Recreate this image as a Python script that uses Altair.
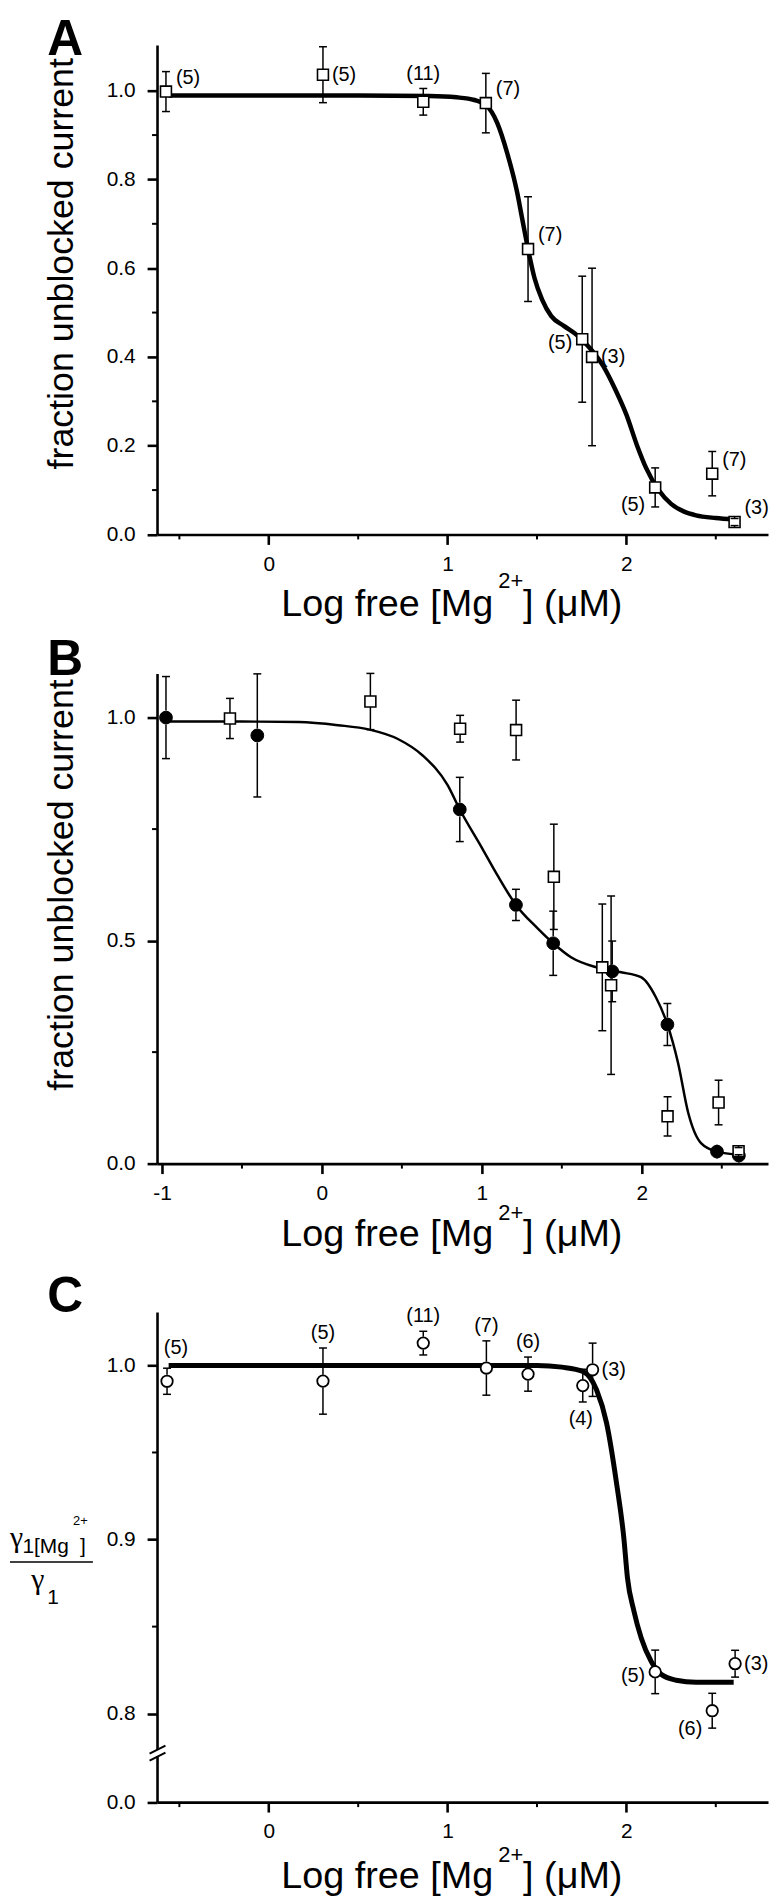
import altair as alt
import pandas as pd

FONT = "Liberation Sans"

# ---------------- data ----------------
# Panel A (open squares, also shown in B)
sq_logmg = [-0.575, 0.303, 0.864, 1.214, 1.450, 1.753, 1.808, 2.161, 2.480, 2.605]
sq_frac = [0.998, 1.036, 0.975, 0.972, 0.643, 0.440, 0.400, 0.106, 0.137, 0.028]
sq_sem = [0.045, 0.063, 0.030, 0.067, 0.118, 0.142, 0.200, 0.044, 0.050, 0.008]
sq_n = ["(5)", "(5)", "(11)", "(7)", "(7)", "(5)", "(3)", "(5)", "(7)", "(3)"]
sq_place = ["ur", "r", "a", "ur", "ur", "l", "r", "ll", "ur", "ur"]

fitA_x = [-0.56, 0.0, 0.5, 0.9, 1.05, 1.15, 1.214, 1.278, 1.333, 1.389, 1.417, 1.45,
          1.486, 1.528, 1.58, 1.65, 1.73, 1.8, 1.87, 1.94, 2.0, 2.06, 2.11, 2.18,
          2.25, 2.32, 2.389, 2.5, 2.6]
fitA_y = [0.989, 0.989, 0.989, 0.988, 0.985, 0.979, 0.968, 0.927, 0.86, 0.771, 0.712,
          0.643, 0.578, 0.53, 0.492, 0.47, 0.447, 0.418, 0.38, 0.325, 0.27, 0.2, 0.15,
          0.1, 0.069, 0.052, 0.043, 0.037, 0.034]

# Panel B (filled circles)
ci_logmg = [-0.975, -0.404, 0.862, 1.213, 1.446, 1.815, 2.160, 2.470, 2.607]
ci_frac = [1.000, 0.960, 0.794, 0.580, 0.494, 0.431, 0.312, 0.027, 0.018]
ci_sem = [0.092, 0.138, 0.072, 0.035, 0.072, 0.068, 0.047, 0.008, 0.004]

fitB_x = [-0.975, -0.5, -0.146, 0.1, 0.298, 0.475, 0.63, 0.785, 0.862, 1.002, 1.095,
          1.213, 1.344, 1.446, 1.56, 1.716, 1.871, 1.995, 2.088, 2.16, 2.227, 2.29,
          2.37, 2.47, 2.607]
fitB_y = [0.991, 0.991, 0.99, 0.983, 0.973, 0.952, 0.915, 0.849, 0.794, 0.707, 0.648,
          0.58, 0.529, 0.494, 0.462, 0.44, 0.429, 0.418, 0.373, 0.312, 0.225, 0.114,
          0.046, 0.027, 0.02]

# Panel C (open circles, conductance ratio)
oc_logmg = [-0.569, 0.303, 0.864, 1.217, 1.450, 1.756, 1.811, 2.161, 2.480, 2.608]
oc_ratio = [0.9909, 0.9910, 1.0128, 0.9985, 0.9950, 0.9884, 0.9975, 0.8240, 0.8017, 0.8287]
oc_sem = [0.0075, 0.0190, 0.0068, 0.0156, 0.0098, 0.0094, 0.0153, 0.0125, 0.0100, 0.0077]
oc_n = ["(5)", "(5)", "(11)", "(7)", "(6)", "(4)", "(3)", "(5)", "(6)", "(3)"]
oc_place = ["ar", "a", "a", "a", "a", "b", "r", "l", "ll", "r"]

fitC_x = [-0.56, 0.5, 1.0, 1.5, 1.639, 1.756, 1.833, 1.889, 1.944, 1.986, 2.006, 2.042,
          2.083, 2.139, 2.194, 2.278, 2.39, 2.6]
fitC_y = [1.0, 1.0, 1.0, 1.0, 0.999, 0.9966, 0.986, 0.967, 0.933, 0.9006, 0.878, 0.859,
          0.8435, 0.830, 0.8226, 0.8192, 0.818, 0.818]

# axis tick values (major = labelled, minor = unlabelled short ticks)
xA_major = [0, 1, 2]
xA_minor = [-0.5, 0.5, 1.5, 2.5]
xB_major = [-1, 0, 1, 2]
xB_minor = [-0.5, 0.5, 1.5, 2.5]
yA_major = [0, 0.2, 0.4, 0.6, 0.8, 1.0]
yA_minor = [0.1, 0.3, 0.5, 0.7, 0.9]
yB_major = [0, 0.5, 1.0]
yB_minor = [0.25, 0.75]
Y_BREAK0 = 0.7492  # where the "0.0" tick sits below the axis break
yC_major = [Y_BREAK0, 0.8, 0.9, 1.0]
yC_minor = [0.85, 0.95]
# axis break symbol of panel C (two short slanted strokes)
brk_lo = [0.7770, 0.7730]
brk_hi = [0.7816, 0.7776]


def pts_df(x, y, e, n=None, place=None):
    d = pd.DataFrame({"x": x, "y": y, "e": e})
    d["lo"] = d["y"] - d["e"]
    d["hi"] = d["y"] + d["e"]
    if n is not None:
        d["n"] = n
        d["place"] = place
    return d


dfA = pts_df(sq_logmg, sq_frac, sq_sem, sq_n, sq_place)
dfB = pts_df(ci_logmg, ci_frac, ci_sem)
dfC = pts_df(oc_logmg, oc_ratio, oc_sem, oc_n, oc_place)
fitA = pd.DataFrame({"x": fitA_x, "y": fitA_y})
fitB = pd.DataFrame({"x": fitB_x, "y": fitB_y})
fitC = pd.DataFrame({"x": fitC_x, "y": fitC_y})

# ---------------- layout (page pixels) ----------------
PLOT_LEFT = 157.5
W = 615.0
A_TOP = 38.3
SP = 100.0
HA = 492.7
B_TOP = A_TOP + HA + SP
TB = 670.7 - B_TOP
HB = 1164.0 - B_TOP
C_TOP = B_TOP + HB + SP
TC = 1313.3 - C_TOP
HC = 1806.7 - C_TOP
C_PX_PER_UNIT = (HC - TC) / (1.0307 - Y_BREAK0)

one = alt.Data(values=[{}])


def axis(values, orient, label_expr, **kw):
    return alt.Axis(values=values, orient=orient, grid=False,
                    domainColor="black", domainWidth=2.6,
                    tickColor="black", tickWidth=2.6, tickSize=10,
                    labelExpr=label_expr, labelFont=FONT, labelFontSize=21,
                    labelColor="black", labelFlush=False, labelOverlap=False, **kw)


def text(s, px, py, top, size, weight="normal", align="left", font=FONT):
    return alt.Chart(one).mark_text(
        text=s, font=font, fontSize=size, fontWeight=weight, align=align,
        baseline="alphabetic", color="black").encode(
        x=alt.value(px - PLOT_LEFT), y=alt.value(py - top))


def xtitle(top, axis_y, off, sup_off):
    return [
        text("Log free [Mg", 282.5, axis_y + off, top, 38),
        text("2+", 501, axis_y + sup_off, top, 22),
        text("] (\u03bcM)", 526, axis_y + off, top, 38),
    ]


class Panel:
    def __init__(self, xdom, ydom, yrange, xax, yax):
        self.xdom, self.ydom = xdom, ydom
        self.xs = alt.Scale(domain=xdom, nice=False, zero=False)
        self.ys = alt.Scale(domain=ydom, nice=False, zero=False, range=yrange)
        self.xax, self.yax = xax, yax

    def X(self, f):
        return alt.X(f"{f}:Q", scale=self.xs, axis=self.xax)

    def Y(self, f):
        return alt.Y(f"{f}:Q", scale=self.ys, axis=self.yax)

    def curve(self, df, width):
        return alt.Chart(df).mark_line(color="black", strokeWidth=width,
                                       interpolate="monotone").encode(x=self.X("x"), y=self.Y("y"))

    def minor(self, xvals, yvals):
        xm = alt.Chart(pd.DataFrame({"v": xvals, "b": self.ydom[0]})).mark_rule(
            color="black", strokeWidth=2, y2Offset=5).encode(
            x=self.X("v"), y=self.Y("b"), y2="b:Q")
        ym = alt.Chart(pd.DataFrame({"v": yvals, "b": self.xdom[0]})).mark_rule(
            color="black", strokeWidth=2, x2Offset=-5).encode(
            y=self.Y("v"), x=self.X("b"), x2="b:Q")
        return [xm, ym]

    def markers(self, df, shape, size, half, fill, sw):
        pts = alt.Chart(df).mark_point(shape=shape, size=size, filled=True, fill=fill,
                                       stroke="black", strokeWidth=sw, opacity=1).encode(
            x=self.X("x"), y=self.Y("y"))
        up = alt.Chart(df).mark_rule(color="black", strokeWidth=1.5, y2Offset=-half).encode(
            x=self.X("x"), y=self.Y("hi"), y2="y:Q")
        dn = alt.Chart(df).mark_rule(color="black", strokeWidth=1.5, y2Offset=half).encode(
            x=self.X("x"), y=self.Y("lo"), y2="y:Q")
        caps = alt.Chart(df).transform_fold(["lo", "hi"], as_=["k", "v"]).mark_tick(
            orient="horizontal", size=8, thickness=1.5, color="black", opacity=1).encode(
            x=self.X("x"), y=self.Y("v"))
        return [pts, up, dn, caps]

    PLACES = {
        "ur": ("y", "left", 10, -14),
        "r": ("y", "left", 9, 0),
        "l": ("y", "right", -10, 4),
        "ll": ("y", "right", -10, 18),
        "a": ("hi", "center", 0, -15),
        "ar": ("hi", "center", 9, -20),
        "b": ("lo", "center", -2, 17),
    }

    def labels(self, df):
        out = []
        for key, (field, align, dx, dy) in self.PLACES.items():
            if key not in set(df["place"]):
                continue
            out.append(alt.Chart(df).transform_filter(alt.datum.place == key).mark_text(
                font=FONT, fontSize=20, align=align, baseline="middle", dx=dx, dy=dy,
                color="black").encode(x=self.X("x"), y=self.Y(field), text="n:N"))
        return out


def ytitle_axis(values, label_expr, title_center_y, top):
    return axis(values, "left", label_expr, labelPadding=12,
                title="fraction unblocked current", titleFont=FONT,
                titleFontSize=36, titleFontWeight="normal", titleColor="black",
                titleAngle=270, titleAlign="center", titleBaseline="alphabetic",
                titleX=72 - PLOT_LEFT, titleY=title_center_y - top)


# ---------------- panel A ----------------
pA = Panel([-0.625, 2.792], [0, 1.103], [HA, 0],
           axis(xA_major, "bottom", "datum.value + ''", labelPadding=9, title=None),
           ytitle_axis(yA_major, "format(datum.value, '.1f')", 258, A_TOP))
# white anchor fixing the top-left corner of the whole figure at the page corner
anchor = alt.Chart(one).mark_rule(color="white", strokeWidth=2).encode(
    x=alt.value(9 - PLOT_LEFT), x2=alt.value(10 - PLOT_LEFT), y=alt.value(9 - A_TOP))
panelA = alt.layer(
    anchor,
    pA.curve(fitA, 4.5),
    *pA.minor(xA_minor, yA_minor),
    *pA.markers(dfA, "square", 121, 5.5, "white", 1.6),
    *pA.labels(dfA),
    text("A", 47, 48, A_TOP, 50, weight="bold"),
    *xtitle(A_TOP, 531, 82, 54),
).properties(width=W, height=HA)

# ---------------- panel B ----------------
pB = Panel([-1.031, 2.789], [0, 1.0987], [HB, TB],
           axis(xB_major, "bottom", "datum.value + ''", labelPadding=9, title=None),
           ytitle_axis(yB_major, "format(datum.value, '.1f')", 883, B_TOP))
panelB = alt.layer(
    pB.curve(fitB, 2.5),
    *pB.minor(xB_minor, yB_minor),
    *pB.markers(dfB, "circle", 165, 7, "black", 1.0),
    *pB.markers(dfA, "square", 121, 5.5, "white", 1.6),
    text("B", 47, 672, B_TOP, 50, weight="bold"),
    *xtitle(B_TOP, 1164, 83, 57),
).properties(width=W, height=HB)

# ---------------- panel C ----------------
pC = Panel([-0.625, 2.792], [Y_BREAK0, 1.0307], [HC, TC],
           axis(xA_major, "bottom", "datum.value + ''", labelPadding=9, title=None),
           axis(yC_major, "left", "datum.value < 0.76 ? '0.0' : format(datum.value, '.1f')",
                labelPadding=12, title=None))
brk = pd.DataFrame({"b": pC.xdom[0], "lo": brk_lo, "hi": brk_hi})
gap = alt.Chart(pd.DataFrame({"b": [pC.xdom[0]], "lo": [brk_lo[1] + 0.0027],
                              "hi": [brk_hi[0] - 0.0025]})).mark_rule(
    color="white", strokeWidth=8).encode(x=pC.X("b"), y=pC.Y("lo"), y2="hi:Q")
brk_marks = alt.Chart(brk).mark_rule(color="black", strokeWidth=2, xOffset=-7.5,
                                     x2Offset=8.5).encode(
    x=pC.X("b"), x2="b:Q", y=pC.Y("lo"), y2="hi:Q")


def c_level(py):
    """panel-C data value at a given page row (for the y-title pieces)"""
    return Y_BREAK0 + (C_TOP + HC - py) / C_PX_PER_UNIT


def ctext(s, px, py, size, font=FONT):
    return alt.Chart(pd.DataFrame({"v": [c_level(py)]})).mark_text(
        text=s, font=font, fontSize=size, align="left", baseline="alphabetic",
        color="black").encode(x=alt.value(px - PLOT_LEFT), y=pC.Y("v"))


frac_bar = alt.Chart(pd.DataFrame({"v": [c_level(1565)]})).mark_rule(
    color="black", strokeWidth=1.6).encode(
    x=alt.value(9.5 - PLOT_LEFT), x2=alt.value(93 - PLOT_LEFT), y=pC.Y("v"))

panelC = alt.layer(
    pC.curve(fitC, 5),
    *pC.minor(xA_minor, yC_minor),
    *pC.markers(dfC, "circle", 133, 6.5, "white", 1.8),
    *pC.labels(dfC),
    gap, brk_marks,
    text("C", 47, 1313, C_TOP, 50, weight="bold"),
    ctext("\u03b3", 9.5, 1550, 30, font="Liberation Serif"),
    ctext("1[Mg", 22, 1556, 21),
    ctext("2+", 73, 1528, 13),
    ctext("]", 80, 1556, 21),
    frac_bar,
    ctext("\u03b3", 31, 1592, 30, font="Liberation Serif"),
    ctext("1", 47, 1607, 21),
    *xtitle(C_TOP, 1806.7, 86, 60),
).properties(width=W, height=HC)

chart = alt.vconcat(panelA, panelB, panelC, spacing=SP, bounds="flush").properties(
    padding={"left": 0, "top": 0, "right": 0, "bottom": 0},
).configure_view(stroke=None)

chart.save("out.html", embed_options={"renderer": "svg", "actions": False})
